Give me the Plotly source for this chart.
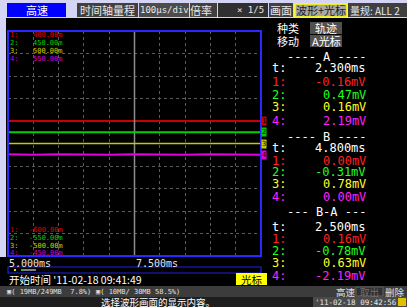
import plotly.graph_objects as go

# ---------------- data ----------------
time_ms = [5.0, 5.5, 6.0, 6.5, 7.0, 7.5, 8.0, 8.5, 9.0, 9.5, 10.0]
ch1_mV = [0.0, -0.16, 0.0, 0.16, 0.0, -0.16, 0.0, 0.0, 0.16, 0.0, 0.0]
ch2_mV = [0.47, 0.0, -0.31, 0.0, 0.47, 0.0, -0.31, 0.0, 0.0, 0.47, 0.0]
ch3_mV = [0.16, 0.78, 0.16, 0.0, 0.78, 0.16, 0.0, 0.78, 0.16, 0.0, 0.16]
ch4_mV = [2.19, 0.0, 2.19, 0.0, 0.0, 2.19, 0.0, 0.0, 2.19, 0.0, 0.0]
channels = ["1", "2", "3", "4"]
scale_top = ["400.00m", "450.00m", "500.00m", "550.00m"]
scale_bottom = ["-600.00m", "-550.00m", "-500.00m", "-450.00m"]
range_top_mV = [400, 450, 500, 550]
range_bottom_mV = [-600, -550, -500, -450]
axis_labels = ["5.000ms", "7.500ms"]
cursor_ms = [7.5]

cursor_A = ["2.300ms", "-0.16mV", "0.47mV", "0.16mV", "2.19mV"]
cursor_B = ["4.800ms", "0.00mV", "-0.31mV", "0.78mV", "0.00mV"]
cursor_BA = ["2.500ms", "0.16mV", "-0.78mV", "0.63mV", "-2.19mV"]

trace_colors = ["#c80000", "#00d000", "#c8c800", "#e000e0"]
label_colors = ["#e00000", "#00d000", "#d0d000", "#d000d0"]
text_colors = ["#ff2020", "#20ff20", "#ffff20", "#ff20ff"]

# ---------------- geometry ----------------
W, H = 407, 307
L, R, T, B = 8, 146, 31, 51
PW, PH = W - L - R, H - T - B


def px(X):
    return (X - L) / PW


def py(Y):
    return (H - B - Y) / PH


MONO = "DejaVu Sans Mono"
CJK = "Noto Sans CJK SC"

fig = go.Figure()
series = [ch1_mV, ch2_mV, ch3_mV, ch4_mV]
widths = [2, 2, 1.5, 2]
for i, s in enumerate(series):
    fig.add_trace(go.Scatter(
        x=time_ms, y=s, mode="lines",
        line=dict(color=trace_colors[i], width=widths[i]),
        yaxis="y" if i == 0 else f"y{i+1}", showlegend=False, hoverinfo="skip"))

for c in cursor_ms:
    fig.add_trace(go.Scatter(x=[c, c], y=[range_bottom_mV[0], range_top_mV[0]],
                             mode="lines", line=dict(color="#8c8c8c", width=1.5),
                             showlegend=False, hoverinfo="skip"))

shapes = []
annotations = []


def rect(x0, y0, x1, y1, fill, line=None, lw=0):
    shapes.append(dict(type="rect", xref="paper", yref="paper",
                       x0=px(x0), x1=px(x1), y0=py(y1), y1=py(y0),
                       fillcolor=fill, line=dict(color=line or fill, width=lw),
                       layer="above"))


def ann(text, X, Y, color="#ffffff", size=12, xanchor="left", family=MONO, **kw):
    annotations.append(dict(text=text, x=px(X), y=py(Y), xref="paper", yref="paper",
                            xanchor=xanchor, yanchor="middle", showarrow=False,
                            borderpad=0, font=dict(color=color, size=size, family=family), **kw))


# lavender frame (top strip and left column)
rect(0, 0, 407, 18, "#d4d4f4")
rect(0, 18, 6, 257, "#d4d4f4")

# top bar boxes
rect(7, 3, 66, 17, "#0000ff")
ann("高速", 36.5, 10, "#ffffff", 11, "center", CJK)
rect(77, 3, 138, 17, "#404040")
ann("时间轴量程", 107.5, 10, "#e8e8e8", 11, "center", CJK)
rect(139, 3, 189, 17, "#4c4c4c")
ann("100μs/div", 164, 10, "#e8e8e8", 9, "center", MONO)
rect(190, 3, 217, 17, "#404040")
ann("倍率", 201, 10, "#e8e8e8", 11, "center", CJK)
rect(218, 3, 268, 17, "#303030")
ann("× 1/5", 250, 10, "#e8e8e8", 9, "center", MONO)
rect(269, 3, 293, 17, "#404040")
ann("画面", 281, 10, "#e8e8e8", 11, "center", CJK)
rect(295, 4, 347, 17, "#a8a8a8", "#ffff00", 1.5)
ann("波形+光标", 321, 10.5, "#202020", 11, "center", CJK)
rect(348, 3, 407, 17, "#404040")
ann("量规: ALL 2", 349, 10, "#e8e8e8", 10, "left", CJK)

# plot frame
shapes.append(dict(type="rect", xref="paper", yref="paper", x0=0, x1=1, y0=0, y1=1,
                   line=dict(color="#2828ff", width=2), layer="above"))

# left scale labels
top_rows = [35, 43, 51, 59]
bot_rows = [230, 238, 246, 253]
for i in range(4):
    ann(channels[i] + ":", 9, top_rows[i], label_colors[i], 7, "left")
    ann(scale_top[i], 64, top_rows[i], label_colors[i], 7, "right")
    ann(channels[i] + ":", 9, bot_rows[i], label_colors[i], 7, "left")
    ann(scale_bottom[i], 64, bot_rows[i], label_colors[i], 7, "right")

# channel markers at right edge
for i in range(4):
    annotations.append(dict(text=channels[i], x=1.0, y=0, xref="paper",
                            yref="y" if i == 0 else f"y{i+1}",
                            xanchor="left", yanchor="middle", showarrow=False,
                            bgcolor=trace_colors[i], borderpad=0,
                            font=dict(color="#000000", size=7, family=MONO)))

# time axis labels
ann(axis_labels[0], 8, 263, "#e8e8e8", 10, "left")
ann(axis_labels[1], 135, 263, "#e8e8e8", 10, "left")

# scroll bar
rect(8, 267, 261, 273, "#000000", "#2020e0", 1.2)
rect(14, 269, 16, 271, "#e0e000")
rect(21, 269, 24, 271, "#20c020")
rect(24, 269, 36, 271, "#808080")

# start time
ann("开始时间 '11-02-18 09:41:49", 8, 279, "#ffffff", 10.5, "left", CJK)
rect(236, 273, 267, 285, "#ffff00")
ann("光标", 251.5, 279, "#000000", 10.5, "center", CJK)

# bottom bars
rect(0, 286, 407, 297, "#3c3c3c")
rect(0, 297, 407, 307, "#1e1e1e")
rect(313, 297, 407, 307, "#4a4a4a")
ann("▣( 19MB/249MB  7.8%)", 6, 291.5, "#e0e0e0", 7, "left")
ann("▣( 10MB/ 30MB 58.5%)", 95, 291.5, "#e0e0e0", 7, "left")
ann("高速", 346, 291.5, "#e0e0e0", 9.5, "center", CJK)
rect(356, 287, 383, 296, "#303030", "#606060", 1)
ann("取出", 369.5, 291.5, "#707070", 9.5, "center", CJK)
ann("删除", 395, 291.5, "#e0e0e0", 9.5, "center", CJK)
ann("选择波形画面的显示内容。", 158, 301.5, "#ffffff", 9.5, "center", CJK)
ann("'11-02-18 09:42:56", 314, 302, "#e8e8e8", 7.5, "left")
rect(398, 298, 406, 306, "#e0c000")

# right panel
ann("种类", 276, 28, "#ffffff", 11, "left", CJK)
rect(310, 22, 342, 34, "#505050")
ann("轨迹", 326, 28, "#ffffff", 11, "center", CJK)
ann("移动", 276, 41, "#ffffff", 11, "left", CJK)
rect(310, 35, 342, 47, "#505050")
ann("A光标", 326, 41, "#ffffff", 11, "center", CJK)

VX = 367
LX = 271
FS = 12
blocks = [("---- A ----", 57, [68, 82, 95, 107, 121], cursor_A),
          ("---- B ----", 137, [148, 161, 172, 184, 197], cursor_B),
          ("--- B-A ---", 212, [227, 239, 251, 263, 276], cursor_BA)]
for title, ty, rows, vals in blocks:
    ann(title, 326, ty, "#ffffff", FS, "center")
    ann("t:", LX, rows[0], "#ffffff", FS, "left")
    ann(vals[0], VX, rows[0], "#ffffff", FS, "right")
    for i in range(4):
        ann(channels[i] + ":", LX, rows[i + 1], text_colors[i], FS, "left")
        ann(vals[i + 1], VX, rows[i + 1], text_colors[i], FS, "right")

grid = dict(showgrid=True, gridcolor="#5a5a5a", griddash="dot", gridwidth=1,
            zeroline=False, showticklabels=False, ticks="", showline=False)
layout_axes = dict(
    xaxis=dict(range=[time_ms[0], time_ms[-1]], dtick=0.5, **grid),
    yaxis=dict(range=[range_bottom_mV[0], range_top_mV[0]], dtick=100, **grid),
)
for i in range(1, 4):
    layout_axes[f"yaxis{i+1}"] = dict(range=[range_bottom_mV[i], range_top_mV[i]],
                                      overlaying="y", visible=False)

fig.update_layout(
    width=W, height=H,
    margin=dict(l=L, r=R, t=T, b=B, pad=0),
    paper_bgcolor="#000000", plot_bgcolor="#000000",
    shapes=shapes, annotations=annotations, showlegend=False,
    **layout_axes,
)
fig.write_html("out.html", config={"displayModeBar": False},
               post_script="document.body.style.margin='0';document.body.style.padding='0';")
